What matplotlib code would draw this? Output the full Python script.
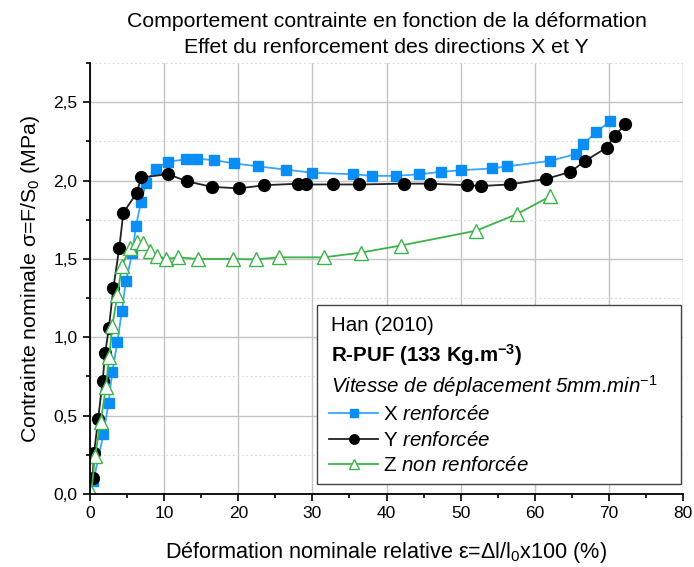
import matplotlib
matplotlib.use("Agg")
import matplotlib.pyplot as plt
from matplotlib.patches import Rectangle
from matplotlib.ticker import MultipleLocator, FuncFormatter

plt.rcParams['font.family'] = ['Liberation Sans', 'DejaVu Sans']
plt.rcParams['mathtext.fontset'] = 'custom'
plt.rcParams['mathtext.rm'] = 'Liberation Sans'
plt.rcParams['mathtext.it'] = 'Liberation Sans:italic'
plt.rcParams['mathtext.bf'] = 'Liberation Sans:bold'

# --- data ---
x_ren_x = [0.45, 1.8, 2.5, 3.0, 3.7, 4.3, 4.85, 5.7, 6.2, 6.9, 7.55, 8.9, 10.5, 12.9, 14.4, 16.7,
           19.4, 22.7, 26.4, 29.9, 35.5, 38.1, 41.3, 44.4, 47.3, 50.1, 54.2, 56.2, 62.1, 65.6,
           66.5, 68.3, 70.2]
x_ren_y = [0.08, 0.38, 0.58, 0.78, 0.97, 1.17, 1.36, 1.535, 1.71, 1.865, 1.985, 2.075, 2.12, 2.135,
           2.14, 2.13, 2.11, 2.09, 2.07, 2.05, 2.04, 2.03, 2.03, 2.04, 2.055, 2.066, 2.077, 2.09,
           2.126, 2.17, 2.23, 2.31, 2.38]

y_ren_x = [0.35, 0.55, 1.1, 1.7, 2.05, 2.55, 3.15, 3.95, 4.5, 6.3, 6.9, 10.55, 13.1, 16.4, 20.1,
           23.5, 28.1, 29.2, 32.8, 36.3, 42.4, 45.9, 50.9, 52.7, 56.6, 61.5, 64.8, 66.8, 69.7,
           70.8, 72.2]
y_ren_y = [0.10, 0.26, 0.48, 0.72, 0.90, 1.06, 1.315, 1.57, 1.795, 1.92, 2.02, 2.04, 1.995, 1.96,
           1.95, 1.97, 1.98, 1.975, 1.975, 1.975, 1.98, 1.98, 1.97, 1.965, 1.975, 2.01, 2.055,
           2.125, 2.21, 2.285, 2.36]

z_x = [0.2, 0.67, 1.45, 2.15, 2.6, 3.0, 3.7, 4.3, 5.4, 6.4, 7.1, 8.1, 9.1, 10.3, 11.9, 14.6, 19.3,
       22.4, 25.5, 31.6, 36.5, 41.9, 52.1, 57.6, 62.1]
z_y = [0.015, 0.24, 0.46, 0.685, 0.875, 1.07, 1.27, 1.455, 1.57, 1.61, 1.60, 1.55, 1.52, 1.50,
       1.51, 1.50, 1.50, 1.497, 1.51, 1.51, 1.54, 1.585, 1.68, 1.786, 1.90]

labels = ["X $\\mathit{renforcée}$", "Y $\\mathit{renforcée}$", "Z $\\mathit{non\\ renforcée}$"]

fig = plt.figure(figsize=(6.94, 5.67), dpi=100)
ax = fig.add_axes([90/694, 1-494/567, 593/694, 431/567])

ax.set_xlim(0, 80)
ax.set_ylim(0, 2.75)
ax.xaxis.set_major_locator(MultipleLocator(10))
ax.xaxis.set_minor_locator(MultipleLocator(5))
ax.yaxis.set_major_locator(MultipleLocator(0.5))
ax.yaxis.set_minor_locator(MultipleLocator(0.25))
ax.yaxis.set_major_formatter(FuncFormatter(lambda v, p: f"{v:.1f}".replace('.', ',')))

ax.grid(True, which='major', color='#c4c4c4', lw=1.0, ls='-')
ax.grid(True, which='minor', axis='y', color='#dddddd', lw=0.8, ls=(0, (2, 2)))
ax.set_axisbelow(True)

for s in ['top', 'right']:
    ax.spines[s].set_visible(False)
for s in ['left', 'bottom']:
    ax.spines[s].set_linewidth(1.3)
ax.tick_params(which='major', direction='out', length=5, width=1.2, labelsize=12.5, pad=4)
ax.tick_params(which='minor', direction='out', length=3, width=1.2)

l1, = ax.plot(x_ren_x, x_ren_y, '-s', color='#3aa6ff', mfc='#0a8df5', mec='#0a8df5', ms=7, lw=1.3)
l2, = ax.plot(y_ren_x, y_ren_y, '-o', color='#222222', mfc='black', mec='black', ms=8.5, lw=1.3)
l3, = ax.plot(z_x, z_y, '-^', color='#3cb44b', mfc='white', mec='#3cb44b', ms=9.5, lw=1.3, mew=1.0)

ax.set_title("Comportement contrainte en fonction de la déformation\nEffet du renforcement des directions X et Y",
             fontsize=15.3, pad=7, linespacing=1.5)
ax.set_xlabel("Déformation nominale relative ε=Δl/l$_0$x100 (%)", fontsize=15.6, labelpad=13)
ax.set_ylabel("Contrainte nominale σ=F/S$_0$ (MPa)", fontsize=15.3, labelpad=8)

# legend box
ax.add_patch(Rectangle((0.383, 0.023), 0.6136, 0.4155, transform=ax.transAxes,
                       facecolor='white', edgecolor='#444444', lw=1.0, zorder=5))
ax.text(0.4064, 0.392, "Han (2010)", transform=ax.transAxes, fontsize=14.8, va='center', zorder=6)
ax.text(0.4064, 0.3225, "R-PUF (133 Kg.m$^{\\mathbf{-3}}$)", transform=ax.transAxes, fontsize=14.8,
        fontweight='bold', va='center', zorder=6)
ax.text(0.4064, 0.2506, "Vitesse de déplacement 5mm.min$^{-1}$", transform=ax.transAxes, fontsize=14.8,
        style='italic', va='center', zorder=6)
leg = ax.legend([l1, l2, l3], labels, loc='upper left', bbox_to_anchor=(0.403, 0.206),
                frameon=False, fontsize=14.8, handlelength=2.4, handletextpad=0.25,
                labelspacing=0.32, borderpad=0, borderaxespad=0, markerscale=0.8)
leg.set_zorder(7)

fig.savefig("out.png", dpi=100)
